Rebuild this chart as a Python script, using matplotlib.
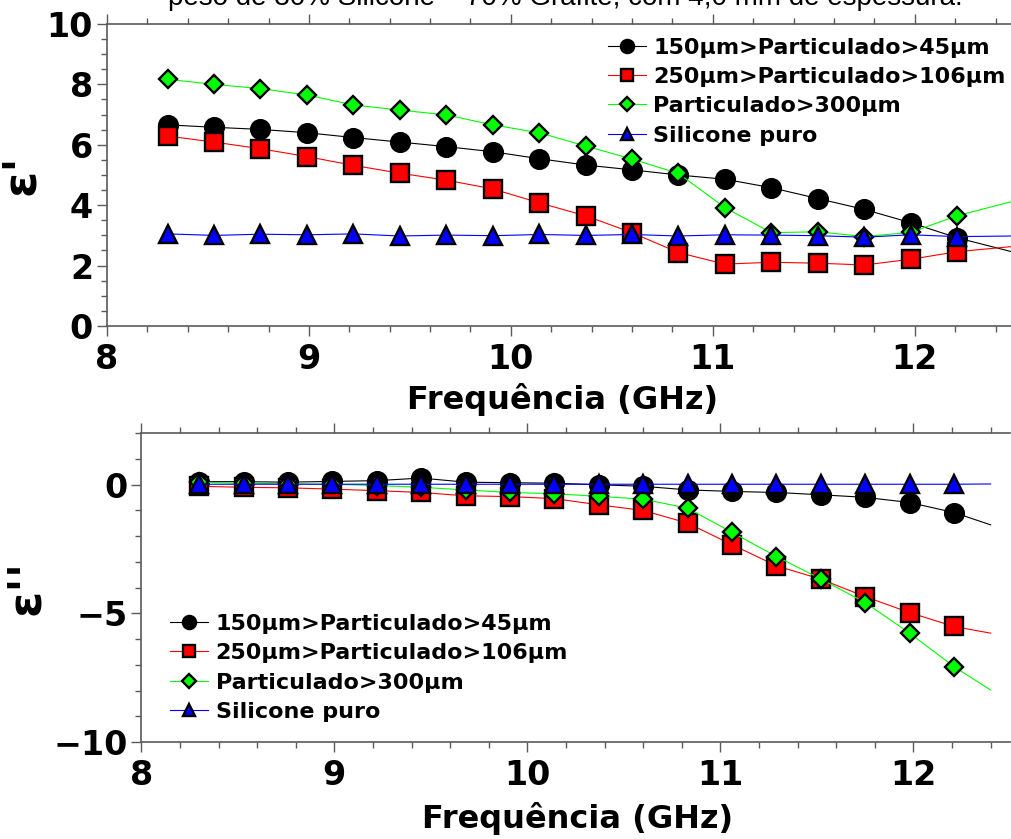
#!/usr/bin/env python3
"""Permissividade complexa (e' e e'') vs frequencia - recriacao"""

import matplotlib
matplotlib.use('Agg')
import matplotlib.pyplot as plt
from matplotlib.ticker import MultipleLocator

# frequencias dos marcadores (GHz)
freq = [8.30, 8.53, 8.76, 8.99, 9.22, 9.45, 9.68, 9.91, 10.14,
        10.37, 10.60, 10.83, 11.06, 11.29, 11.52, 11.75, 11.98, 12.21]
freq_end_top = 12.48
freq_end_bot = 12.40

labels = ['150µm>Particulado>45µm', '250µm>Particulado>106µm',
          'Particulado>300µm', 'Silicone puro']

# parte real (e')
er_45 = [6.66, 6.58, 6.51, 6.40, 6.24, 6.09, 5.94, 5.77, 5.54,
         5.33, 5.17, 5.00, 4.86, 4.58, 4.22, 3.86, 3.42, 2.92]
er_106 = [6.29, 6.09, 5.87, 5.61, 5.32, 5.06, 4.83, 4.54, 4.08,
          3.65, 3.09, 2.43, 2.05, 2.11, 2.08, 2.02, 2.21, 2.46]
er_300 = [8.17, 8.00, 7.86, 7.65, 7.32, 7.15, 6.99, 6.66, 6.40,
          5.96, 5.53, 5.05, 3.92, 3.09, 3.12, 2.96, 3.10, 3.65]
er_sil = [3.05, 3.00, 3.04, 3.02, 3.05, 2.98, 3.01, 2.99, 3.03,
          3.00, 3.03, 2.98, 3.02, 3.01, 2.99, 2.94, 3.02, 2.96]
er_tail = [2.46, 2.63, 4.12, 2.98]

# parte imaginaria (e'')
ei_45 = [0.12, 0.12, 0.10, 0.13, 0.16, 0.26, 0.10, 0.08, 0.06,
         0.00, -0.06, -0.20, -0.26, -0.30, -0.39, -0.49, -0.69, -1.08]
ei_106 = [-0.06, -0.10, -0.12, -0.17, -0.23, -0.30, -0.43, -0.46, -0.54,
          -0.78, -1.00, -1.49, -2.33, -3.15, -3.67, -4.35, -4.97, -5.51]
ei_300 = [0.10, 0.06, 0.03, 0.02, -0.03, -0.10, -0.20, -0.30, -0.35,
          -0.45, -0.56, -0.91, -1.85, -2.79, -3.66, -4.58, -5.77, -7.07]
ei_sil = [0.02, 0.02, 0.02, 0.02, 0.02, 0.02, 0.02, 0.02, 0.02,
          0.02, 0.02, 0.02, 0.02, 0.02, 0.02, 0.02, 0.02, 0.02]
ei_tail = [-1.56, -5.77, -7.98, 0.03]

colors = ['black', '#ff0000', '#00ff00', '#0000ff']
markers = ['o', 's', 'D', '^']
msizes = [13.5, 12.5, 9.5, 12.5]

plt.rcParams['font.family'] = ['DejaVu Sans']
plt.rcParams['font.weight'] = 'bold'
SPINE = '#5a5a5a'

fig = plt.figure(figsize=(10.12, 8.39), dpi=100)
W, H = 1012.0, 839.0
ax1 = fig.add_axes([107 / W, 1 - 326 / H, (1011.7 - 107) / W, (326 - 24) / H])
ax2 = fig.add_axes([141.3 / W, 1 - 742 / H, (1010 - 141.3) / W, (742 - 433.3) / H])


def draw(ax, series, tail, x_end):
    for i, ys in enumerate(series):
        ax.plot(freq + [x_end], ys + [tail[i]], color=colors[i], lw=0.8,
                marker=markers[i], markevery=slice(0, len(freq)),
                ms=msizes[i], mfc=colors[i], mec='black', mew=1.7,
                label=labels[i])


def style(ax):
    ax.spines['right'].set_visible(False)
    for s in ['left', 'bottom', 'top']:
        ax.spines[s].set_color(SPINE)
        ax.spines[s].set_linewidth(1.2)
    ax.xaxis.set_major_locator(MultipleLocator(1))
    ax.xaxis.set_minor_locator(MultipleLocator(0.2))
    ax.tick_params(which='both', direction='out', color=SPINE, width=1,
                   top=True, labelsize=24)
    ax.tick_params(which='major', length=7)
    ax.tick_params(which='minor', length=4)
    ax.tick_params(axis='x', pad=5)
    ax.tick_params(axis='y', pad=3)


def legend(ax, anchor):
    ax.legend(loc='upper left', bbox_to_anchor=anchor, frameon=False,
              fontsize=16, markerscale=0.7, handlelength=1.7,
              handletextpad=0.35, labelspacing=0.42, borderpad=0,
              borderaxespad=0)


draw(ax1, [er_45, er_106, er_300, er_sil], er_tail, freq_end_top)
ax1.set_xlim(8, freq_end_top)
ax1.set_ylim(0, 10)
ax1.yaxis.set_major_locator(MultipleLocator(2))
ax1.yaxis.set_minor_locator(MultipleLocator(0.5))
style(ax1)
ax1.set_xlabel('Frequência (GHz)', fontsize=23, fontweight='bold')
ax1.xaxis.set_label_coords(0.503, -0.19)
ax1.xaxis.label.set_va('top')
ax1.set_ylabel("ε'", fontsize=34, fontweight='bold')
ax1.yaxis.set_label_coords(-0.070, 0.5)
legend(ax1, (0.5536, 0.955))

draw(ax2, [ei_45, ei_106, ei_300, ei_sil], ei_tail, freq_end_bot)
ax2.set_xlim(8, 12.5)
ax2.set_ylim(-10, 2)
ax2.yaxis.set_major_locator(MultipleLocator(5))
ax2.yaxis.set_minor_locator(MultipleLocator(1))
style(ax2)
ax2.set_xlabel('Frequência (GHz)', fontsize=23, fontweight='bold')
ax2.xaxis.set_label_coords(0.502, -0.195)
ax2.xaxis.label.set_va('top')
ax2.set_ylabel("ε''", fontsize=34, fontweight='bold')
ax2.yaxis.set_label_coords(-0.106, 0.5)
legend(ax2, (0.033, 0.415))

# titulo cortado no topo da imagem (como na referencia)
fig.text(0.559, 1 - 5 / H,
         'peso de 30% Silicone – 70% Grafite, com 4,0 mm de espessura.',
         ha='center', va='baseline', fontsize=20, fontweight='normal',
         family='Liberation Sans')

fig.savefig('out.png', dpi=100)
